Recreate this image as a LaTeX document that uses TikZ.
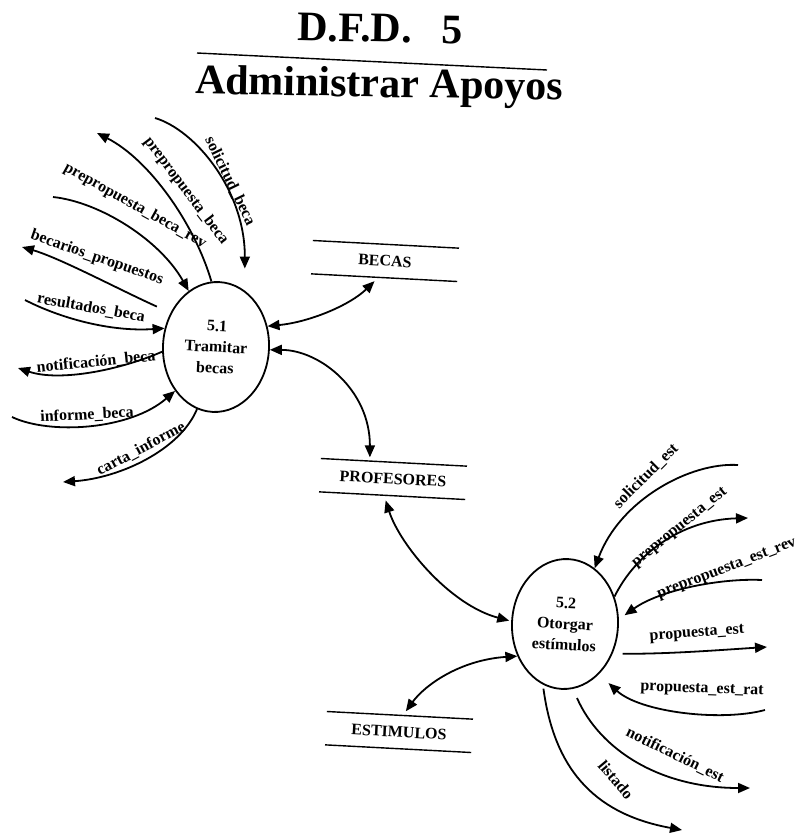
\documentclass[tikz,border=0pt]{standalone}
\usepackage{fontspec}
\setmainfont{Liberation Serif}
\usetikzlibrary{arrows.meta,shapes.geometric}
\tikzset{
  flow/.style={line width=1.8pt,-{Triangle[length=12pt,width=10pt]}},
  twoway/.style={line width=1.8pt,{Triangle[length=12pt,width=10pt]}-{Triangle[length=12pt,width=10pt]}},
  process/.style={ellipse,draw,line width=1.8pt,minimum width=106pt,minimum height=130pt,
    inner sep=0pt,align=center,rotate=-3,font=\bfseries\fontsize{16}{21}\selectfont},
  store/.style={minimum width=146pt,minimum height=33pt,inner sep=0pt,rotate=-3,
    font=\bfseries\fontsize{16}{18}\selectfont},
  storeline/.style={line width=1.4pt},
  lbl/.style={inner sep=0pt,font=\bfseries\fontsize{16}{18}\selectfont},
  heading/.style={inner sep=0pt,font=\bfseries\fontsize{42}{46}\selectfont,rotate=-1},
}
\begin{document}
\begin{tikzpicture}[x=1pt,y=-1pt]
\useasboundingbox (0,0) rectangle (800,838);

% heading
\node[heading,anchor=base] (hd1) at (380,42) {D.F.D.\hspace{30pt}5};
\node[heading,anchor=base] (hd2) at (379,97) {Administrar Apoyos};
\draw[line width=1.4pt] (197,53) -- (547,70);

% processes
\node[process] (p51) at (216,347) {5.1\\Tramitar\\becas};
\node[process] (p52) at (565,624) {5.2\\Otorgar\\estímulos};

% data stores
\node[store] (becas) at (385,261) {BECAS};
\node[store] (prof)  at (393,479) {PROFESORES};
\node[store] (estim) at (399,732) {ESTIMULOS};
\foreach \s in {becas,prof,estim}{
  \draw[storeline] (\s.north west) -- (\s.north east);
  \draw[storeline] (\s.south west) -- (\s.south east);
}

% free ends of the external flows
\coordinate (sb0) at (155,118);
\coordinate (pb1) at (97,133);
\coordinate (pr0) at (53,197);
\coordinate (bp1) at (22,247);
\coordinate (rb0) at (25,300);
\coordinate (nb1) at (18,368);
\coordinate (ib0) at (12,417);
\coordinate (ci1) at (63,482);
\coordinate (se0) at (738,465);
\coordinate (pe1) at (748,518);
\coordinate (per0) at (762,580);
\coordinate (pu1) at (767,647);
\coordinate (pra0) at (765,710);
\coordinate (ne1) at (750,788);
\coordinate (li1) at (682,830);

% store connectors
\draw[twoway,shorten >=5pt] (p51.25) .. controls (310,322) and (350,305) .. ([xshift=-6pt]becas.south);
\draw[twoway,shorten >=5pt] (p51.0) .. controls (320,350) and (370,390) .. ([xshift=-24pt]prof.north);
\draw[twoway,shorten <=5pt,shorten >=2pt] ([xshift=-8pt]prof.south) .. controls (400,545) and (450,605) .. (p52.180);
\draw[twoway,shorten <=5pt] ([xshift=3pt]estim.north) .. controls (425,685) and (460,660) .. (p52.217);

% flows of 5.1
\draw[flow,shorten >=22pt] (sb0) .. controls (195,130) and (245,190) .. (p51.66);
\draw[flow] (p51.97) .. controls (195,225) and (150,160) .. (pb1);
\draw[flow] (pr0) .. controls (100,202) and (160,240) .. (p51.119);
\draw[flow,shorten <=15pt] (p51.146) .. controls (120,290) and (60,258) .. (bp1);
\draw[flow] (rb0) .. controls (60,318) and (110,332) .. (p51.163);
\draw[flow] (p51.188) .. controls (120,370) and (60,382) .. (nb1);
\draw[flow] (ib0) .. controls (50,435) and (130,430) .. (p51.230);
\draw[flow] (p51.256) .. controls (180,450) and (120,478) .. (ci1);

\node[lbl,rotate=-64] (t1) at (230,181) {solicitud\_beca};
\node[lbl,rotate=-53] (t2) at (186,191) {prepropuesta\_beca};
\node[lbl,rotate=-29] (t3) at (135,206) {prepropuesta\_beca\_rev};
\node[lbl,rotate=-19] (t4) at (97,258) {becarios\_propuestos};
\node[lbl,rotate=-10] (t5) at (91,308) {resultados\_beca};
\node[lbl,rotate=5.5] (t6) at (96,362) {notificación\_beca};
\node[lbl,rotate=3] (t7) at (87,415) {informe\_beca};
\node[lbl,rotate=28] (t8) at (141,449) {carta\_informe};

% flows of 5.2
\draw[flow] (se0) .. controls (690,462) and (620,500) .. (p52.65);
\draw[flow] (p52.32) .. controls (635,555) and (680,520) .. (pe1);
\draw[flow,shorten >=7pt] (per0) .. controls (720,578) and (660,590) .. (p52.8);
\draw[flow,shorten <=10pt] (p52.-29) .. controls (670,654) and (720,650) .. (pu1);
\draw[flow,shorten >=13pt] (pra0) .. controls (720,722) and (640,712) .. (p52.-53);
\draw[flow,shorten <=10pt] (p52.-80) .. controls (600,750) and (660,788) .. (ne1);
\draw[flow,shorten <=4pt] (p52.253) .. controls (555,775) and (600,815) .. (li1);

\node[lbl,rotate=45] (u1) at (646,476) {solicitud\_est};
\node[lbl,rotate=39] (u2) at (680,528) {prepropuesta\_est};
\node[lbl,rotate=21] (u3) at (727,569) {prepropuesta\_est\_rev};
\node[lbl,rotate=4] (u4) at (697,634) {propuesta\_est};
\node[lbl,rotate=-2] (u5) at (702,690) {propuesta\_est\_rat};
\node[lbl,rotate=-26] (u6) at (675,755) {notificación\_est};
\node[lbl,rotate=-50] (u7) at (616,780) {listado};
\end{tikzpicture}
\end{document}
